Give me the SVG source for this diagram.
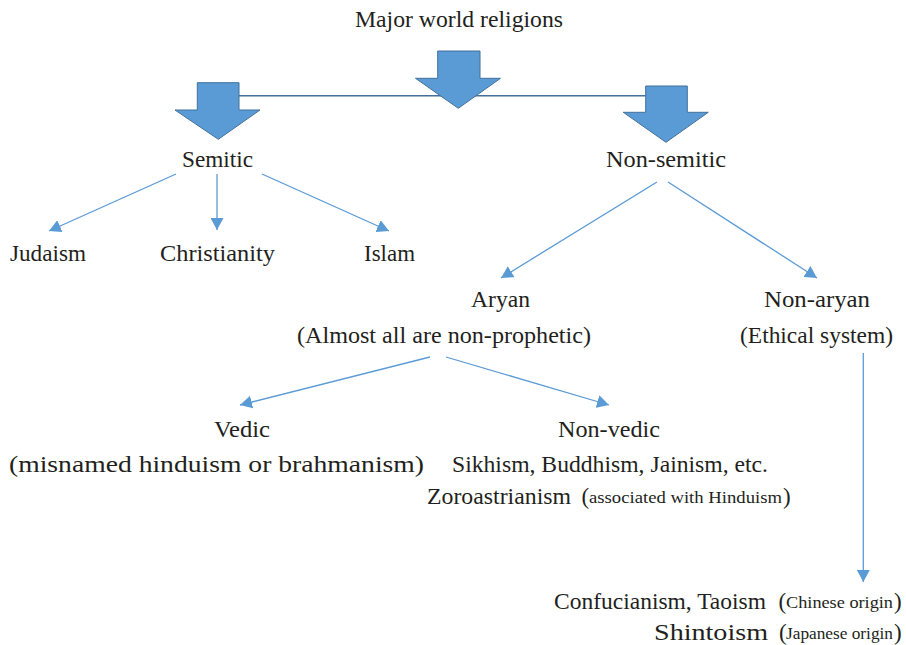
<svg xmlns="http://www.w3.org/2000/svg" width="906" height="645" viewBox="0 0 906 645">
<style>
text{font-family:"Liberation Serif","Times New Roman",serif;font-size:23px;fill:#231F20;}
.sm{font-size:17px;}
.blk{fill:#5B9BD5;stroke:#41719C;stroke-width:1;}
.con{stroke:#5B9BD5;stroke-width:1.3;fill:none;marker-end:url(#ah);}
.bar{stroke:#41719C;stroke-width:1.5;fill:none;}
</style>
<defs>
<marker id="ah" markerUnits="userSpaceOnUse" markerWidth="13" markerHeight="13" refX="12" refY="6.5" orient="auto">
<path d="M0,0 L12,6.5 L0,13 z" fill="#5B9BD5"/>
</marker>
</defs>
<rect width="906" height="645" fill="#fff"/>
<g id="connectors">
<line class="bar" x1="239" y1="95.7" x2="645.7" y2="95.7"/>
<line class="con" x1="176" y1="174" x2="49" y2="231"/>
<line class="con" x1="217" y1="174" x2="217" y2="230"/>
<line class="con" x1="262" y1="174" x2="389" y2="231"/>
<line class="con" x1="657" y1="182" x2="501" y2="278"/>
<line class="con" x1="668" y1="182" x2="817" y2="278"/>
<line class="con" x1="430" y1="357" x2="240" y2="405"/>
<line class="con" x1="446" y1="357" x2="609" y2="405"/>
<line class="con" x1="863.3" y1="353" x2="863.3" y2="582"/>
<path class="blk" d="M437.7,51 H480 V78.3 H500.5 L458.3,108.3 L415.5,78.3 H437.7 Z"/>
<path class="blk" d="M197.3,82.7 H239 V110 H260 L218.3,139.3 L175,110 H197.3 Z"/>
<path class="blk" d="M645.7,86 H687.3 V112.3 H708.3 L666,142.3 L623.3,112.3 H645.7 Z"/>
</g>
<g id="root"><text x="355" y="27" textLength="208" lengthAdjust="spacingAndGlyphs">Major world religions</text></g>
<g id="semitic"><text x="182" y="167" textLength="71" lengthAdjust="spacingAndGlyphs">Semitic</text></g>
<g id="nonsemitic"><text x="606" y="167" textLength="120" lengthAdjust="spacingAndGlyphs">Non-semitic</text></g>
<g id="judaism"><text x="10" y="261" textLength="76" lengthAdjust="spacingAndGlyphs">Judaism</text></g>
<g id="christianity"><text x="160" y="261" textLength="115" lengthAdjust="spacingAndGlyphs">Christianity</text></g>
<g id="islam"><text x="364" y="261" textLength="51" lengthAdjust="spacingAndGlyphs">Islam</text></g>
<g id="aryan">
<text x="471" y="307" textLength="59" lengthAdjust="spacingAndGlyphs">Aryan</text>
<text x="297" y="343" textLength="294" lengthAdjust="spacingAndGlyphs">(Almost all are non-prophetic)</text>
</g>
<g id="nonaryan">
<text x="764" y="307" textLength="106" lengthAdjust="spacingAndGlyphs">Non-aryan</text>
<text x="740" y="343" textLength="153" lengthAdjust="spacingAndGlyphs">(Ethical system)</text>
</g>
<g id="vedic">
<text x="214" y="437" textLength="56" lengthAdjust="spacingAndGlyphs">Vedic</text>
<text x="9" y="472" textLength="415" lengthAdjust="spacingAndGlyphs">(misnamed hinduism or brahmanism)</text>
</g>
<g id="nonvedic">
<text x="558" y="437" textLength="102" lengthAdjust="spacingAndGlyphs">Non-vedic</text>
<text x="452" y="472" textLength="316" lengthAdjust="spacingAndGlyphs">Sikhism, Buddhism, Jainism, etc.</text>
<text x="427" y="504" textLength="144" lengthAdjust="spacingAndGlyphs">Zoroastrianism</text>
<text x="581.5" y="504">(</text>
<text class="sm" x="589" y="503" textLength="193" lengthAdjust="spacingAndGlyphs">associated with Hinduism</text>
<text x="783" y="504">)</text>
</g>
<g id="eastasian">
<text x="554" y="609" textLength="212" lengthAdjust="spacingAndGlyphs">Confucianism, Taoism</text>
<text x="778.5" y="609">(</text>
<text class="sm" x="786" y="608" textLength="107" lengthAdjust="spacingAndGlyphs">Chinese origin</text>
<text x="894" y="609">)</text>
<text x="654" y="640" textLength="114" lengthAdjust="spacingAndGlyphs">Shintoism</text>
<text x="779" y="640">(</text>
<text class="sm" x="786" y="639" textLength="107" lengthAdjust="spacingAndGlyphs">Japanese origin</text>
<text x="894" y="640">)</text>
</g>
</svg>
